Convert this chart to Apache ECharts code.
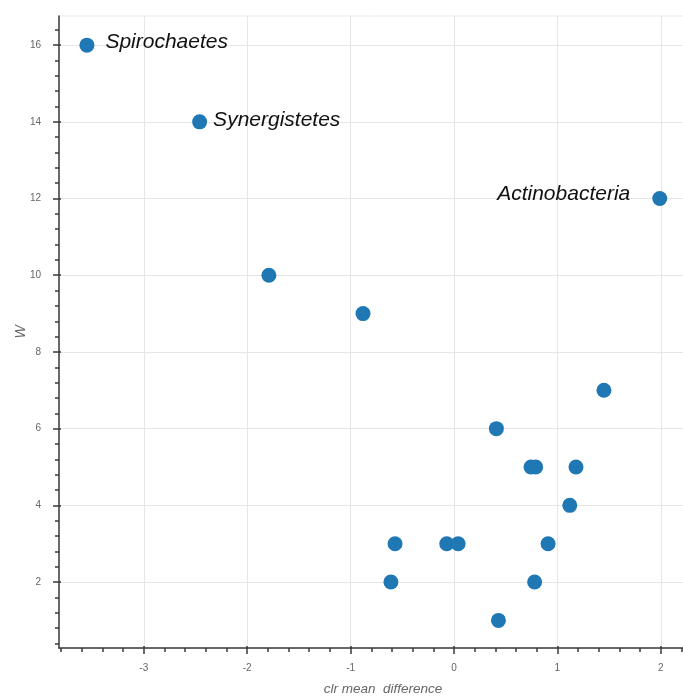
<!DOCTYPE html>
<html>
<head>
<meta charset="utf-8">
<script src="https://cdn.jsdelivr.net/npm/echarts@6/dist/echarts.min.js"></script>
<style>
html,body{margin:0;padding:0;background:#fff;}
#chart{width:683px;height:696px;}
</style>
</head>
<body>
<div id="chart"></div>
<script>
// Data
const phylum = ['Spirochaetes','Synergistetes','Actinobacteria','','','','','','','','','','','','','','',''];
const clrMeanDiff = [-3.55, -2.46, 1.99, -1.79, -0.88, 1.45, 0.41, 0.745, 0.79, 1.18, 1.12, -0.57, -0.07, 0.04, 0.91, -0.61, 0.78, 0.43];
const W = [16, 14, 12, 10, 9, 7, 6, 5, 5, 5, 4, 3, 3, 3, 3, 2, 2, 1];
const xTickLabels = [-3, -2, -1, 0, 1, 2];
const yTickLabels = [2, 4, 6, 8, 10, 12, 14, 16];

const X_MIN = -3.82, X_MAX = 2.447, Y_MIN = 0.28, Y_MAX = 16.76;
const FONT = 'Liberation Sans';

const xMinor = [], yMinor = [];
for (let i = -19; i <= 12; i++) { if (i % 5 !== 0) xMinor.push(+(i * 0.2).toFixed(2)); }
for (let i = 1; i <= 41; i++) { if (i % 5 !== 0) yMinor.push(+(i * 0.4).toFixed(2)); }

const labelStyles = {
  'Spirochaetes': {position: 'right', distance: 11, offset: [0, -3]},
  'Synergistetes': {position: 'right', distance: 6, offset: [0, -2]},
  'Actinobacteria': {position: 'left', distance: 22, offset: [0, -4]}
};

const points = clrMeanDiff.map((x, i) => {
  const item = {value: [x, W[i]], name: phylum[i]};
  if (phylum[i]) {
    const s = labelStyles[phylum[i]];
    item.label = Object.assign({
      show: true, formatter: '{b}', color: '#111', fontSize: 21,
      fontStyle: 'italic', fontFamily: FONT
    }, s);
  }
  return item;
});

const axisColor = '#3a3a3a';
const gridLine = {show: true, lineStyle: {color: '#e6e6e6', width: 1, type: 'solid'}};
function xAx(extra) {
  return Object.assign({
    type: 'value', min: X_MIN, max: X_MAX, position: 'bottom',
    axisLine: {show: false, onZero: false}, axisLabel: {show: false},
    splitLine: {show: false}, axisTick: {show: false}
  }, extra);
}
function yAx(extra) {
  return Object.assign({
    type: 'value', min: Y_MIN, max: Y_MAX, position: 'left',
    axisLine: {show: false, onZero: false}, axisLabel: {show: false},
    splitLine: {show: false}, axisTick: {show: false}
  }, extra);
}

const chart = echarts.init(document.getElementById('chart'), null, {renderer: 'canvas'});
chart.setOption({
  animation: false,
  backgroundColor: '#fff',
  grid: {left: 59, top: 16, width: 648, height: 632, outerBoundsMode: 'none', containLabel: false,
         show: true, borderColor: '#e8e8e8', borderWidth: 1},
  xAxis: [
    xAx({
      axisLine: {show: true, onZero: false, lineStyle: {color: axisColor, width: 1.5}},
      axisTick: {show: true, length: 6, customValues: xTickLabels, lineStyle: {color: axisColor, width: 1.5}},
      axisLabel: {show: true, customValues: xTickLabels, margin: 15, color: '#666', fontSize: 10, fontFamily: FONT},
      name: 'clr mean  difference', nameLocation: 'middle', nameGap: 34, nameMoveOverlap: false,
      nameTextStyle: {color: '#666', fontSize: 13.5, fontStyle: 'italic', fontFamily: FONT}
    }),
    xAx({axisTick: {show: true, length: 4, customValues: xMinor, lineStyle: {color: axisColor, width: 1.5}}}),
    xAx({axisTick: {show: true, inside: true, length: 2, customValues: xTickLabels, lineStyle: {color: axisColor, width: 1.5}},
         splitLine: gridLine})
  ],
  yAxis: [
    yAx({
      axisLine: {show: true, onZero: false, lineStyle: {color: axisColor, width: 1.5}},
      axisTick: {show: true, length: 6, customValues: yTickLabels, lineStyle: {color: axisColor, width: 1.5}},
      axisLabel: {show: true, customValues: yTickLabels, margin: 18, color: '#666', fontSize: 10, fontFamily: FONT},
      name: 'W', nameLocation: 'middle', nameGap: 31, nameRotate: 90, nameMoveOverlap: false,
      nameTextStyle: {color: '#666', fontSize: 14, fontStyle: 'italic', fontFamily: FONT}
    }),
    yAx({axisTick: {show: true, length: 4, customValues: yMinor, lineStyle: {color: axisColor, width: 1.5}}}),
    yAx({axisTick: {show: true, inside: true, length: 2, customValues: yTickLabels, lineStyle: {color: axisColor, width: 1.5}},
         splitLine: gridLine})
  ],
  series: [
    {
      type: 'scatter', z: 3,
      symbol: 'circle', symbolSize: 15,
      itemStyle: {color: '#1f77b4', opacity: 1},
      data: points
    }
  ]
});
</script>
</body>
</html>
